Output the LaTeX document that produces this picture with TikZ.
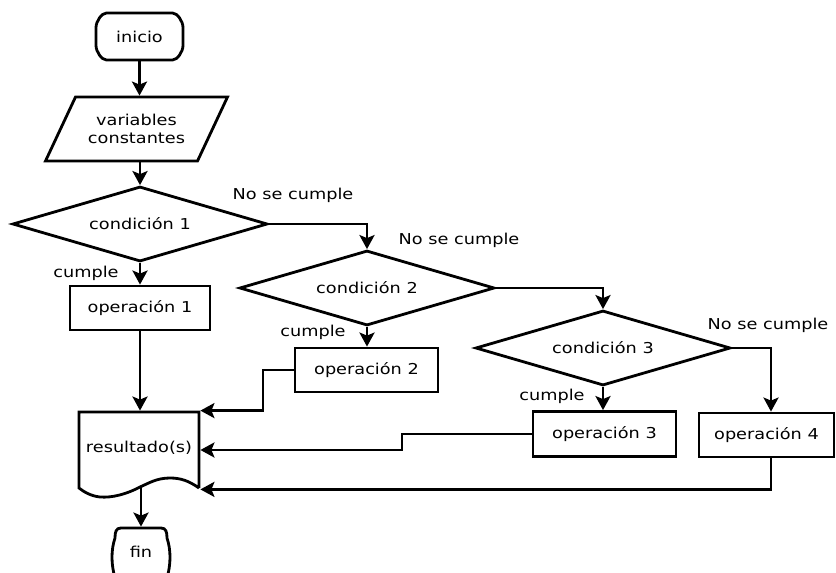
\documentclass[tikz,border=0pt]{standalone}
\usepackage{fontspec}
\setmainfont{DejaVu Sans}[FakeStretch=1.18]
\usetikzlibrary{shapes.geometric,arrows.meta,calc}
\begin{document}
\begin{tikzpicture}[x=1pt,y=-1pt, line width=2.8pt,
 font=\fontsize{15}{18}\selectfont,
 arr/.style={-{Stealth[length=14pt,width=15pt,inset=3pt]}},
 box/.style={draw, minimum width=140pt, minimum height=44pt, inner sep=0pt},
 cond/.style={draw, diamond, aspect=3.4, minimum width=255pt, minimum height=75pt, inner sep=0pt},
 lbl/.style={inner sep=0pt},
 ghost/.style={inner sep=0pt, align=center}]
\useasboundingbox (0,0) rectangle (836,573);

% nodes
\node[ghost, minimum width=87pt, minimum height=47pt] (inicio) at (139.5,36.5) {inicio};
\draw[shift={(inicio.center)}] (-33,-23.5) -- (33,-23.5) .. controls (38,-23.5) and (43.5,-15) .. (43.5,-9) -- (43.5,9) .. controls (43.5,15) and (38,23.5) .. (33,23.5) -- (-33,23.5) .. controls (-38,23.5) and (-43.5,15) .. (-43.5,9) -- (-43.5,-9) .. controls (-43.5,-15) and (-38,-23.5) .. (-33,-23.5) -- cycle;

\node[ghost, minimum width=151pt, minimum height=64pt] (vars) at (136.5,129) {variables\\constantes};
\draw[shift={(vars.center)}] (-61,-32) -- (91,-32) -- (61,32) -- (-91,32) -- cycle;

\node[cond] (cond1) at (140,224) {condición 1};
\node[cond] (cond2) at (367,288) {condición 2};
\node[cond] (cond3) at (603,348) {condición 3};

\node[box] (op1) at (140,308) {operación 1};
\node[box, minimum width=143pt] (op2) at (366.5,370) {operación 2};
\node[box, minimum width=143pt, minimum height=45pt] (op3) at (604.5,434) {operación 3};
\node[box, minimum width=135pt] (op4) at (766.5,435) {operación 4};

\node[ghost, minimum width=120pt, minimum height=76pt] (res) at (139,450) {\raisebox{7pt}{resultado(s)}};
\draw[shift={(res.center)}] (60,38) -- (60,-38) -- (-60,-38) -- (-60,38) .. controls (-55,42) and (-48,46) .. (-39,47) .. controls (-27,48) and (-12,44) .. (1,37) .. controls (10,33) and (18,28) .. (31,28) .. controls (42,28) and (50,31) .. (60,38);

\node[ghost, minimum width=58pt, minimum height=48pt] (fin) at (141,552) {fin};
\draw[shift={(fin.center)}] (-20,-24) -- (20,-24) .. controls (25,-24) and (26,-20) .. (26,-14) .. controls (30,-2) and (30,12) .. (26,26) -- (-26,26) .. controls (-30,12) and (-30,-2) .. (-26,-14) .. controls (-26,-20) and (-25,-24) .. (-20,-24) -- cycle;

% labels
\node[lbl] (n1) at (293,195) {No se cumple};
\node[lbl] (n2) at (459,240) {No se cumple};
\node[lbl] (n3) at (768,325) {No se cumple};
\node[lbl] (c1) at (86,273) {cumple};
\node[lbl] (c2) at (313,332) {cumple};
\node[lbl] (c3) at (552,396) {cumple};

% helper coordinates
\coordinate (resb) at (141,486);
\coordinate (k2) at (263,0);
\coordinate (k3) at (402,0);

% connectors
\draw[arr] (inicio.south) -- (inicio.south |- vars.north);
\draw[arr] (cond1.north |- vars.south) -- (cond1.north);
\draw[arr] (cond1.south) -- (op1.north);
\draw[arr] (op1.south) -- (op1.south |- res.north);
\draw[arr] (cond1.east) -| (cond2.north);
\draw[arr] (cond2.south) -- (cond2.south |- op2.north);
\draw[arr] (cond2.east) -| (cond3.north);
\draw[arr] (cond3.south) -- (cond3.south |- op3.north);
\draw[arr] (cond3.east) -| ($(op4.north)+(4.5,0)$);
\draw[arr] (op2.west) -| (k2 |- res.north east) -- (res.north east);
\draw[arr] (op3.west) -| (k3 |- res.east) -- (res.east);
\draw[arr] ($(op4.south)+(4.5,0)$) |- (res.south east);
\draw[arr] (resb) -- (fin.north);
\end{tikzpicture}
\end{document}
